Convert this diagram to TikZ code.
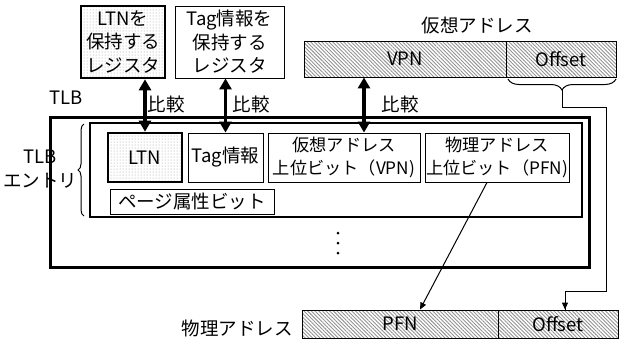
\documentclass[tikz,border=0pt]{standalone}
\usepackage{fontspec}
\setmainfont{Noto Sans CJK JP}
\usetikzlibrary{arrows.meta,decorations.pathreplacing,patterns.meta}
\begin{document}
\begin{tikzpicture}[x=1pt,y=-1pt,
  every node/.style={font=\fontsize{18.5}{23.5}\selectfont, inner sep=0pt, align=center},
  box/.style={draw, line width=0.9pt, minimum height=49pt},
  thickbox/.style={draw, line width=2.6pt},
  dotfill/.style={pattern={Dots[distance=3pt,radius=0.5pt]}, pattern color=gray!80},
  hatchfill/.style={pattern={Lines[angle=-45,distance=2.6pt,line width=0.9pt]}, pattern color=gray!85},
  bigarrow/.style={line width=3.6pt, {Triangle[width=12pt,length=11pt]}-{Triangle[width=12pt,length=11pt]}},
  thinarrow/.style={line width=1pt, -{Triangle[width=6pt,length=7pt]}},
  smalltext/.style={font=\fontsize{17.2}{23}\selectfont},
  lbl/.style={}
]
\useasboundingbox (0,0) rectangle (624,349);

% registers
\node[thickbox, dotfill, minimum width=84pt, minimum height=72pt] (ltnreg) at (123,42) {LTNを\\保持する\\レジスタ};
\node[box, minimum width=109pt, minimum height=72pt] (tagreg) at (229.5,42) {Tag情報を\\保持する\\レジスタ};

% virtual address
\node[lbl] (valbl) at (477,26) {仮想アドレス};
\node[box, hatchfill, minimum width=202pt, minimum height=36pt] (vpn) at (405,59) {VPN};
\node[box, hatchfill, minimum width=110pt, minimum height=36pt] (voff) at (561,59) {Offset};

% TLB
\node[lbl] (tlblbl) at (66,98) {TLB};
\node[draw, line width=3pt, minimum width=539pt, minimum height=150pt] (tlb) at (319.5,192) {};
\node[draw, line width=1.6pt, minimum width=492pt, minimum height=94pt] (entry) at (336,170) {};
\node[lbl] (entlbl) at (40,169) {TLB\\エントリ};

\node[thickbox, dotfill, minimum width=74pt, minimum height=49pt] (ltn) at (145,157.5) {LTN};
\node[box, minimum width=75pt] (tag) at (225.5,157.5) {Tag情報};
\node[box, smalltext, minimum width=152pt] (vpne) at (344,157.5) {仮想アドレス\\上位ビット（VPN)};
\node[box, smalltext, minimum width=144pt] (pfne) at (497,157.5) {物理アドレス\\上位ビット（PFN)};
\node[box, minimum width=164pt, minimum height=25pt] (page) at (192,201.5) {ページ属性ビット};

% entry brace
\draw[line width=1pt, decorate, decoration={brace, amplitude=6pt}] (84,216) -- (84,124);

% vertical ellipsis
\fill (338,233) circle (1.5pt);
\fill (338,243) circle (1.5pt);
\fill (338,253) circle (1.5pt);

% compare arrows
\draw[bigarrow] (ltn.north) -- (ltn.north |- ltnreg.south);
\draw[bigarrow] (tag.north) -- (tag.north |- tagreg.south);
\draw[bigarrow] ([xshift=20pt]vpne.north) -- ([xshift=20pt]vpne.north |- vpn.south);
\node[lbl] (cmp1) at (166,104) {比較};
\node[lbl] (cmp2) at (251,104) {比較};
\node[lbl] (cmp3) at (400,104) {比較};

% physical address
\node[lbl] (palbl) at (237,328) {物理アドレス};
\node[box, hatchfill, minimum width=196pt, minimum height=28pt] (pfn) at (400,324) {PFN};
\node[box, hatchfill, minimum width=120pt, minimum height=28pt] (poff) at (558,324) {Offset};

% offset brace and connector
\draw[line width=1pt, decorate, decoration={brace, amplitude=11pt}] (616,79) -- (508,79);
\coordinate (btip) at (562,90);
\coordinate (c1) at (606,107);
\coordinate (c2) at (606,291);
\draw[line width=1pt] (btip) |- (c1) -- (c2) -| ([xshift=7pt]poff.north);
\draw[thinarrow] ([xshift=7pt]poff.north |- c2) -- ([xshift=7pt]poff.north);

% PFN connector
\draw[thinarrow] ([xshift=-10pt]pfne.south) -- ([xshift=20pt]pfn.north);
\end{tikzpicture}
\end{document}
